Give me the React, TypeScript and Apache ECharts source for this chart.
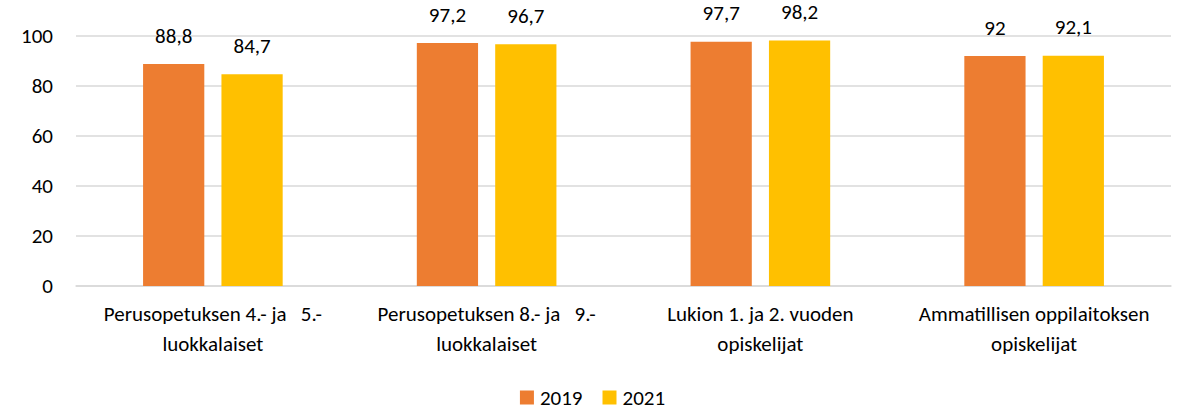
import React, { useEffect, useRef } from "react";
import * as echarts from "echarts";

const categories = [
  "Perusopetuksen 4.- ja   5.-\nluokkalaiset",
  "Perusopetuksen 8.- ja   9.-\nluokkalaiset",
  "Lukion 1. ja 2. vuoden\nopiskelijat",
  "Ammatillisen oppilaitoksen\nopiskelijat",
];
const values2019 = [88.8, 97.2, 97.7, 92];
const values2021 = [84.7, 96.7, 98.2, 92.1];
const seriesNames = ["2019", "2021"];
const yTicks = { min: 0, max: 100, interval: 20 };

const FONT = "Carlito, Lato, 'Liberation Sans', sans-serif";
const FS = 21;

export default function App() {
  const ref = useRef<HTMLDivElement>(null);
  useEffect(() => {
    if (!ref.current) return;
    const chart = echarts.init(ref.current, undefined, { renderer: "svg" });
    const fmt = (p: any) => String(p.value).replace(".", ",");
    const label = {
      show: true,
      position: "top",
      distance: 18,
      formatter: fmt,
      color: "#000",
      fontSize: FS,
      fontFamily: FONT,
    };
    chart.setOption({
      animation: false,
      textStyle: { fontFamily: FONT },
      grid: { left: 76, right: 14, top: 36, bottom: 124, containLabel: false },
      legend: {
        top: 382,
        left: "center",
        itemWidth: 14,
        itemHeight: 14,
        itemGap: 20,
        icon: "rect",
        textStyle: { fontSize: FS, color: "#000", fontFamily: FONT, padding: [0, 0, 0, 1] },
        data: seriesNames,
      },
      xAxis: {
        type: "category",
        data: categories,
        axisTick: { show: false },
        axisLine: { lineStyle: { color: "#d9d9d9", width: 1.5 } },
        axisLabel: {
          color: "#000",
          fontSize: FS,
          fontFamily: FONT,
          lineHeight: 30,
          margin: 13,
          interval: 0,
        },
      },
      yAxis: {
        type: "value",
        min: yTicks.min,
        max: yTicks.max,
        interval: yTicks.interval,
        axisLine: { show: false },
        axisTick: { show: false },
        splitLine: { lineStyle: { color: "#d9d9d9", width: 1.5 } },
        axisLabel: { color: "#000", fontSize: FS, fontFamily: FONT, margin: 23 },
      },
      series: [
        {
          name: seriesNames[0],
          type: "bar",
          data: values2019,
          itemStyle: { color: "#ED7D31" },
          barGap: "28%",
          barCategoryGap: "49%",
          label,
        },
        {
          name: seriesNames[1],
          type: "bar",
          data: values2021,
          itemStyle: { color: "#FFC000" },
          barGap: "28%",
          barCategoryGap: "49%",
          label,
        },
      ],
    });
    return () => chart.dispose();
  }, []);
  return <div ref={ref} style={{ width: 1185, height: 410, position: "absolute", left: 0, top: 0 }} />;
}
